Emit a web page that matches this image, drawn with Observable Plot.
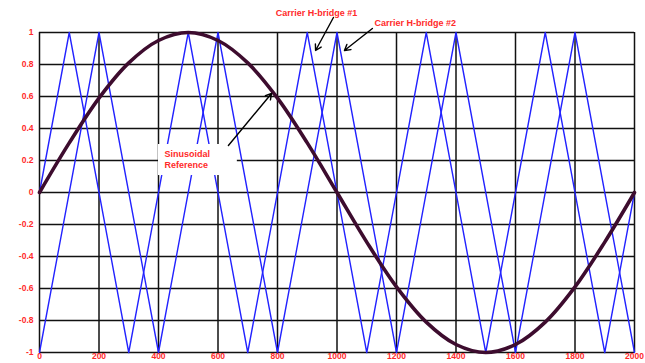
<!DOCTYPE html>
<html>
<head>
<meta charset="utf-8">
<script src="https://cdn.jsdelivr.net/npm/d3@7"></script>
<script src="https://cdn.jsdelivr.net/npm/@observablehq/plot@0.6"></script>
<style>
  html, body { margin: 0; padding: 0; background: #fff; }
  #chart svg { display: block; }
</style>
</head>
<body>
<div id="chart"></div>
<script>
// Tick values
const xTicks = [0, 200, 400, 600, 800, 1000, 1200, 1400, 1600, 1800, 2000];
const yTicks = [-1, -0.8, -0.6, -0.4, -0.2, 0, 0.2, 0.4, 0.6, 0.8, 1];

// Carrier H-bridge #1 (vertices)
const carrier1X = [0, 100, 300, 500, 700, 900, 1100, 1300, 1500, 1700, 1900, 2000];
const carrier1Y = [0, 1, -1, 1, -1, 1, -1, 1, -1, 1, -1, 0];

// Carrier H-bridge #2 (vertices)
const carrier2X = [0, 200, 400, 600, 800, 1000, 1200, 1400, 1600, 1800, 2000];
const carrier2Y = [-1, 1, -1, 1, -1, 1, -1, 1, -1, 1, -1];

// Sinusoidal reference (read every 100)
const sineX = [0, 100, 200, 300, 400, 500, 600, 700, 800, 900, 1000, 1100, 1200, 1300, 1400, 1500, 1600, 1700, 1800, 1900, 2000];
const sineY = [0, 0.31, 0.59, 0.81, 0.95, 1, 0.95, 0.81, 0.59, 0.31, 0, -0.31, -0.59, -0.81, -0.95, -1, -0.95, -0.81, -0.59, -0.31, 0];

// Annotations
const labelTexts = ["Carrier H-bridge #1", "Carrier H-bridge #2"];
const labelX = [931, 1263];
const labelY = [1.12, 1.057];
const arrowX1 = [988, 1119, 635];
const arrowY1 = [1.094, 1.025, 0.294];
const arrowX2 = [928, 1025, 780];
const arrowY2 = [0.8875, 0.8875, 0.619];
const boxX = [400, 665];
const boxY = [0.106, 0.30];
const sineLabel = ["Sinusoidal", "Reference"];
const sineLabelX = [420, 420];
const sineLabelY = [0.2375, 0.17];

const c1 = carrier1X.map((x, i) => ({x, y: carrier1Y[i]}));
const c2 = carrier2X.map((x, i) => ({x, y: carrier2Y[i]}));
const sine = sineX.map((x, i) => ({x, y: sineY[i]}));
const labels = labelTexts.map((t, i) => ({t, x: labelX[i], y: labelY[i]}));
const arrows = arrowX1.map((x1, i) => ({x1, y1: arrowY1[i], x2: arrowX2[i], y2: arrowY2[i]}));
const sLabels = sineLabel.map((t, i) => ({t, x: sineLabelX[i], y: sineLabelY[i]}));

const red = "#ff2a2a";
const chart = Plot.plot({
  width: 645,
  height: 363,
  marginTop: 32,
  marginRight: 11,
  marginBottom: 11,
  marginLeft: 39,
  style: {fontFamily: "Liberation Sans, Arial, sans-serif", background: "#fff"},
  x: {domain: [0, 2000]},
  y: {domain: [-1, 1]},
  marks: [
    Plot.ruleX(xTicks, {stroke: "#111", strokeWidth: 1.5}),
    Plot.ruleY(yTicks, {stroke: "#111", strokeWidth: 1.5}),
    Plot.axisX(xTicks, {tickSize: 0, tickPadding: 0, fontSize: 8.5, fontWeight: "bold", fill: red, tickFormat: d => String(d)}),
    Plot.axisY(yTicks, {tickSize: 0, tickPadding: 6, fontSize: 8.5, fontWeight: "bold", fill: red, tickFormat: d => String(d)}),
    Plot.line(c1, {x: "x", y: "y", stroke: "#2222ff", strokeWidth: 1.4}),
    Plot.line(c2, {x: "x", y: "y", stroke: "#2222ff", strokeWidth: 1.4}),
    Plot.rect([{x1: boxX[0], x2: boxX[1], y1: boxY[0], y2: boxY[1]}], {x1: "x1", x2: "x2", y1: "y1", y2: "y2", fill: "#fff"}),
    Plot.line(sine, {x: "x", y: "y", stroke: "#3d0c2e", strokeWidth: 3.6, curve: "catmull-rom"}),
    Plot.text(sLabels, {x: "x", y: "y", text: "t", textAnchor: "start", fill: red, fontSize: 9, fontWeight: "bold"}),
    Plot.text(labels, {x: "x", y: "y", text: "t", fill: red, fontSize: 9, fontWeight: "bold"}),
    Plot.arrow(arrows, {x1: "x1", y1: "y1", x2: "x2", y2: "y2", stroke: "#000", strokeWidth: 1.4, headLength: 7})
  ]
});
document.getElementById("chart").appendChild(chart);
</script>
</body>
</html>
